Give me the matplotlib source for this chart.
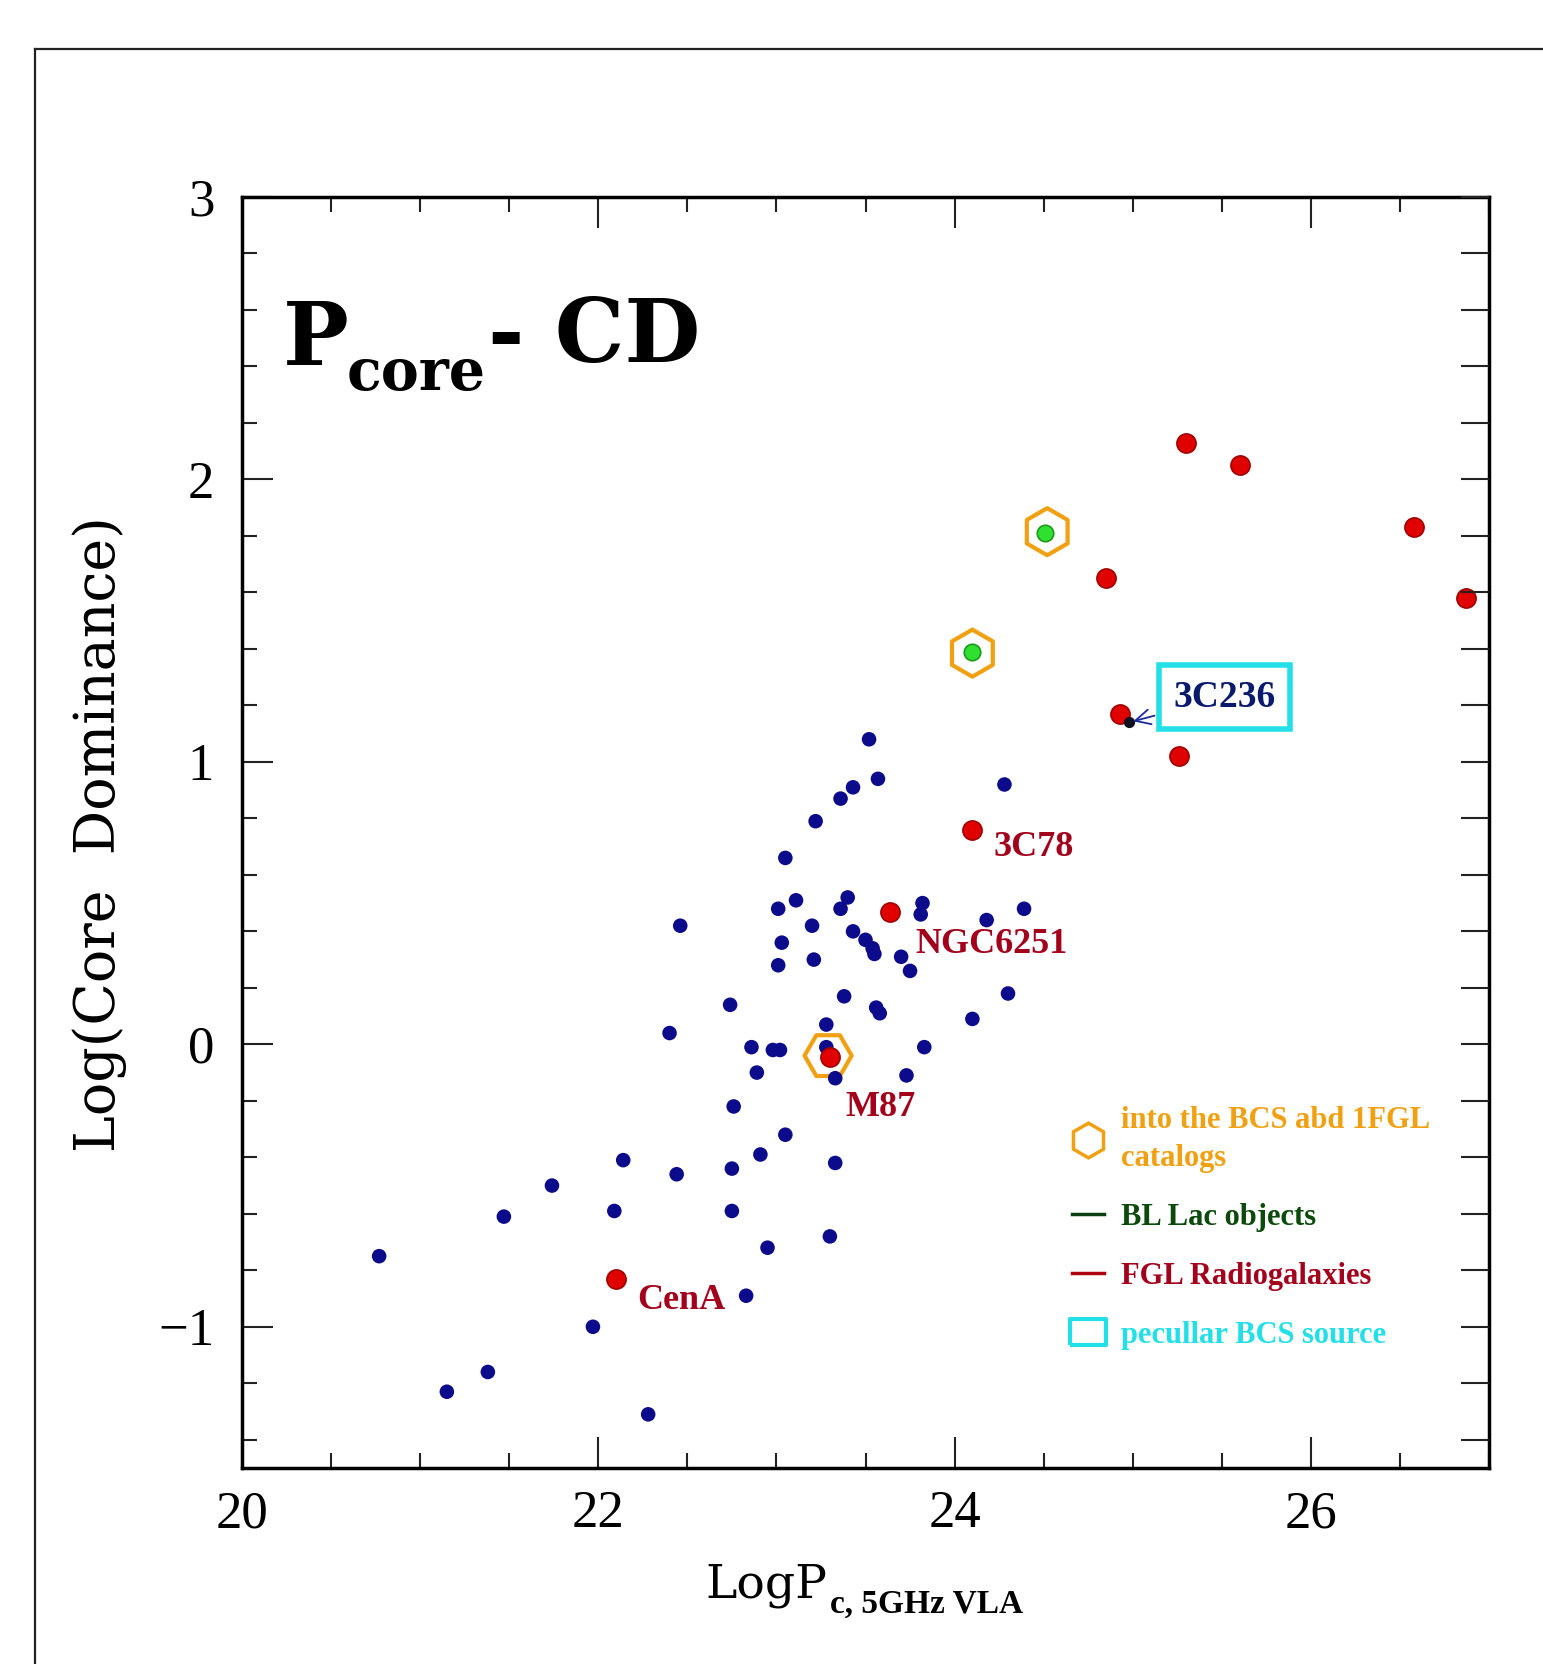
import matplotlib
matplotlib.use("Agg")
import matplotlib.pyplot as plt
from matplotlib.lines import Line2D
from matplotlib.ticker import MultipleLocator, NullLocator

W, H = 1543, 1664

# all sources of the sample (LogP core at 5 GHz, log core dominance)
blue_x = [20.77, 21.15, 21.38, 21.47, 21.74, 21.97, 22.09, 22.14, 22.28, 22.40,
          22.44, 22.46, 22.74, 22.76, 22.75, 22.75, 22.83, 22.86, 22.89, 22.91,
          22.95, 22.98, 23.02, 23.01, 23.01, 23.03, 23.05, 23.05, 23.11, 23.20,
          23.21, 23.22, 23.28, 23.28, 23.33, 23.33, 23.30, 23.36, 23.36, 23.40,
          23.38, 23.43, 23.43, 23.52, 23.50, 23.54, 23.55, 23.56, 23.58, 23.57,
          23.70, 23.73, 23.75, 23.82, 23.81, 23.83, 24.10, 24.18, 24.28, 24.30,
          24.39]
blue_y = [-0.75, -1.23, -1.16, -0.61, -0.50, -1.00, -0.59, -0.41, -1.31, 0.04,
          -0.46, 0.42, 0.14, -0.22, -0.44, -0.59, -0.89, -0.01, -0.10, -0.39,
          -0.72, -0.02, -0.02, 0.48, 0.28, 0.36, -0.32, 0.66, 0.51, 0.42,
          0.30, 0.79, 0.07, -0.01, -0.12, -0.42, -0.68, 0.87, 0.48, 0.52,
          0.17, 0.91, 0.40, 1.08, 0.37, 0.34, 0.32, 0.13, 0.11, 0.94,
          0.31, -0.11, 0.26, 0.50, 0.46, -0.01, 0.09, 0.44, 0.92, 0.18,
          0.48]

# FGL radio galaxies
red_x = [22.10, 23.30, 23.64, 24.10, 24.93, 25.26, 24.85, 25.30, 25.60, 26.58, 26.87]
red_y = [-0.83, -0.045, 0.47, 0.76, 1.17, 1.02, 1.65, 2.13, 2.05, 1.83, 1.58]
red_names = ["CenA", "M87", "NGC6251", "3C78"]

# BL Lac objects
green_x = [24.10, 24.51]
green_y = [1.39, 1.81]

# sources in the BCS and 1FGL catalogs
hex_x = [23.29, 24.10, 24.52]
hex_y = [-0.04, 1.385, 1.815]

# peculiar BCS source
pec_x = [24.98]
pec_y = [1.14]
pec_name = "3C236"

navy = "#0b0b8c"
dark_red = "#a3001b"
orange = "#f0a010"
cyan = "#22dfe8"


def fx(px):
    return px / W


def fy(py):
    return 1 - py / H


fig = plt.figure(figsize=(W / 100, H / 100), dpi=100)
ax = fig.add_axes([fx(242), fy(1468), (1489 - 242) / W, (1468 - 197) / H])

ax.scatter(hex_x[:1], hex_y[:1], s=1150, marker="H", facecolors="none",
           edgecolors=orange, linewidths=3, zorder=2)
ax.scatter(hex_x[1:], hex_y[1:], s=1150, marker="h", facecolors="none",
           edgecolors=orange, linewidths=3, zorder=2)
ax.scatter(blue_x, blue_y, s=110, color=navy, edgecolors="none", zorder=3)
ax.scatter(red_x, red_y, s=190, color="#e00000", edgecolors="#a00000",
           linewidths=1.2, zorder=4)
ax.scatter(green_x, green_y, s=140, color="#30e030", edgecolors="#1a9a1a",
           linewidths=1.2, zorder=5)
ax.scatter(pec_x, pec_y, s=50, color="#101020", zorder=5)

label_offsets = [(15, -16), (11, -36), (18, -24), (15, -13)]
for name, (dx, dy) in zip(red_names, label_offsets):
    i = red_names.index(name)
    ax.annotate(name, (red_x[i], red_y[i]), xytext=(dx, dy),
                textcoords="offset points", ha="left", va="center",
                color=dark_red, fontsize=26, fontweight="bold",
                family="Liberation Serif", zorder=6)

ax.annotate(pec_name, (pec_x[0], pec_y[0]), xytext=(25.516, 1.229),
            ha="center", va="center", color="#0a1a6e", fontsize=27,
            fontweight="bold", family="Liberation Serif", zorder=6,
            bbox=dict(boxstyle="square,pad=0.38", fc="white", ec=cyan, lw=4),
            arrowprops=dict(arrowstyle="->", color="#1a2aa0", lw=1.3,
                            shrinkA=2, shrinkB=3))

ax.set_xlim(20, 27)
ax.set_ylim(-1.5, 3)
ax.xaxis.set_major_locator(MultipleLocator(2))
ax.xaxis.set_minor_locator(MultipleLocator(0.5))
ax.yaxis.set_major_locator(MultipleLocator(1))
ax.yaxis.set_minor_locator(MultipleLocator(0.2))
ax.tick_params(which="both", direction="in", top=True, right=False, width=1.5,
               color="#222222")
ax.tick_params(which="major", length=22)
ax.tick_params(which="minor", length=11)
ax.tick_params(axis="x", pad=16)
ax.tick_params(axis="y", pad=20)
ax.set_yticks([-1, 0, 1, 2, 3])
ax.set_yticklabels(["\u22121", "0", "1", "2", "3"], family="Liberation Serif",
                   fontsize=38)
ax.set_xticks([20, 22, 24, 26])
ax.set_xticklabels(["20", "22", "24", "26"], family="Liberation Serif",
                   fontsize=38)
for sp in ax.spines.values():
    sp.set_linewidth(2.5)

axr = ax.twinx()
axr.set_ylim(-1.5, 3)
axr.yaxis.set_major_locator(MultipleLocator(0.2))
axr.yaxis.set_minor_locator(NullLocator())
axr.tick_params(direction="in", length=20, width=1.5, labelright=False,
                color="#222222")
for sp in axr.spines.values():
    sp.set_visible(False)

# legend
handles = [
    Line2D([], [], marker="h", ls="none", mfc="none", mec=orange, ms=25, mew=2.5),
    Line2D([], [], color="#0a4010", lw=2.5),
    Line2D([], [], color="#b00010", lw=2.5),
    Line2D([], [], marker=[(-1.35, -1), (1.35, -1), (1.35, 1), (-1.35, 1), (-1.35, -1)],
           ls="none", mfc="none", mec=cyan, ms=26, mew=3),
]
labels = ["into the BCS abd 1FGL\ncatalogs", "BL Lac objects",
          "FGL Radiogalaxies", "pecullar BCS source"]
leg = ax.legend(handles, labels, loc="upper left",
                bbox_to_anchor=(fx(1072), fy(1106)),
                bbox_transform=fig.transFigure, frameon=False, borderpad=0,
                borderaxespad=0, handlelength=1.05, handletextpad=0.55,
                labelspacing=0.98,
                labelcolor=[orange, "#0b4a0b", "#a3001b", cyan],
                prop={"family": "Liberation Serif", "weight": "bold", "size": 22})
leg.get_texts()[0].set_linespacing(1.42)

# axis labels
fig.text(fx(100), fy(834), "Log(Core  Dominance)", rotation=90, ha="center",
         va="center", family="DejaVu Serif", fontsize=40)
fig.text(fx(705), fy(1598), "LogP", ha="left", va="baseline",
         family="DejaVu Serif", fontsize=34)
fig.text(fx(830), fy(1613), "c, 5GHz VLA", ha="left", va="baseline",
         family="Liberation Serif", fontweight="bold", fontsize=24)

# panel title
fig.text(fx(283), fy(365), "P", ha="left", va="baseline", family="DejaVu Serif",
         fontweight="bold", fontsize=63)
fig.text(fx(347), fy(390), "core", ha="left", va="baseline", family="DejaVu Serif",
         fontweight="bold", fontsize=41)
fig.text(fx(488), fy(362), "- CD", ha="left", va="baseline", family="DejaVu Serif",
         fontweight="bold", fontsize=63)

# outer frame of the slide
fig.add_artist(Line2D([fx(35), fx(35)], [fy(49), 0], color="#222222", lw=1.6))
fig.add_artist(Line2D([fx(35), 1], [fy(49), fy(49)], color="#222222", lw=1.6))

fig.savefig("out.png", dpi=100)
